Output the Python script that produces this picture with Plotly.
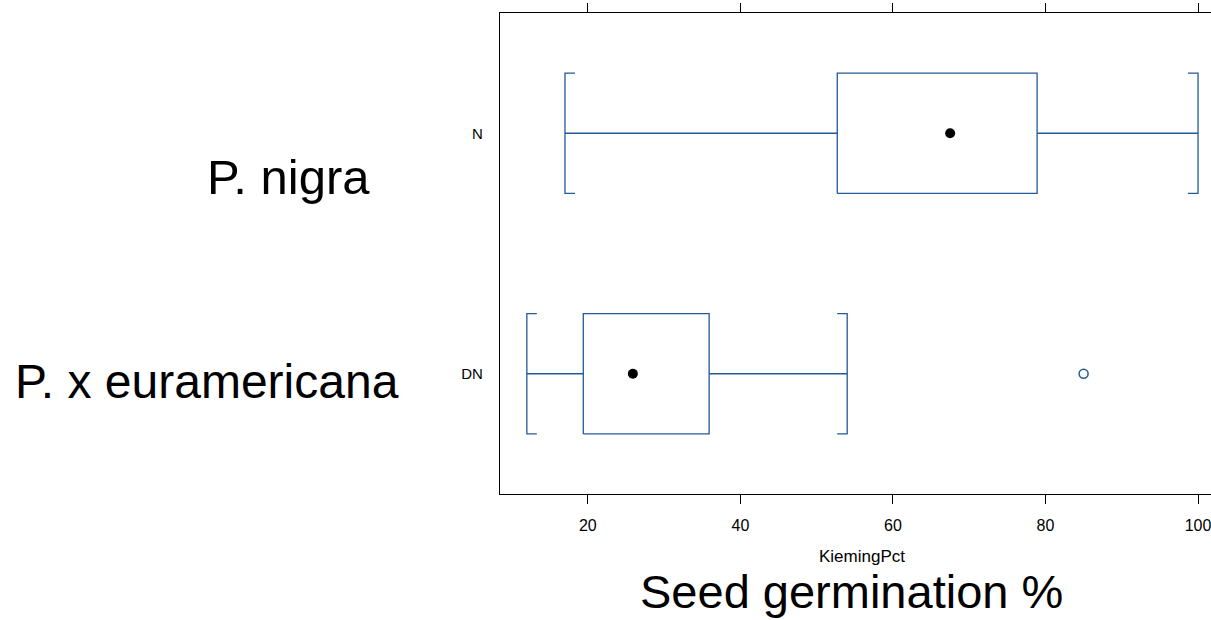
import plotly.graph_objects as go

# ---- data ----
groups = ["DN", "N"]
whisker_low = [12.0, 17.0]
q1 = [19.4, 52.7]
median = [25.9, 67.5]
q3 = [35.9, 78.9]
whisker_high = [54.0, 100.0]
outlier_group = ["DN"]
outlier_value = [85.0]
x_ticks = [20, 40, 60, 80, 100]

# ---- style ----
BLUE = "#235a98"
FONT = "Liberation Sans, Arial, sans-serif"
W, H = 1211, 620
ML, MR, MT, MB = 500, 0, 13, 126
XR = [8.48, 101.7]
YR = [0.5, 2.5]
HALF = 0.25          # half box height in category units
CAP_PX = 10          # cap stub length in pixels
cap = CAP_PX * (XR[1] - XR[0]) / (W - ML - MR)

fig = go.Figure()

for i, g in enumerate(groups):
    y = i + 1
    xs, ys = [], []
    xs += [q1[i], q3[i], q3[i], q1[i], q1[i], None]
    ys += [y - HALF, y - HALF, y + HALF, y + HALF, y - HALF, None]
    xs += [whisker_low[i], q1[i], None, q3[i], whisker_high[i], None]
    ys += [y, y, None, y, y, None]
    wl, wh = whisker_low[i], whisker_high[i]
    xs += [wl + cap, wl, wl, wl + cap, None]
    ys += [y - HALF, y - HALF, y + HALF, y + HALF, None]
    xs += [wh - cap, wh, wh, wh - cap]
    ys += [y - HALF, y - HALF, y + HALF, y + HALF]
    fig.add_trace(go.Scatter(x=xs, y=ys, mode="lines",
                             line=dict(color=BLUE, width=1.3),
                             hoverinfo="skip", showlegend=False, cliponaxis=False))

fig.add_trace(go.Scatter(x=median, y=[groups.index(g) + 1 for g in groups],
                         mode="markers",
                         marker=dict(color="black", size=10, symbol="circle"),
                         showlegend=False))

fig.add_trace(go.Scatter(x=outlier_value,
                         y=[groups.index(g) + 1 for g in outlier_group],
                         mode="markers",
                         marker=dict(color=BLUE, size=9, symbol="circle-open",
                                     line=dict(width=1.5, color=BLUE)),
                         showlegend=False))

def px_to_paper_x(px):
    return (px - ML) / (W - ML - MR)

def px_to_paper_y(py):
    return (H - MB - py) / (H - MT - MB)

annotations = [
    dict(text="P. nigra", x=px_to_paper_x(205), y=px_to_paper_y(177),
         xanchor="left", yanchor="middle", font=dict(size=49)),
    dict(text="P. x euramericana", x=px_to_paper_x(13), y=px_to_paper_y(381),
         xanchor="left", yanchor="middle", font=dict(size=48)),
    dict(text="Seed germination %", x=px_to_paper_x(851), y=px_to_paper_y(591),
         xanchor="center", yanchor="middle", font=dict(size=47)),
    dict(text="KiemingPct", x=px_to_paper_x(862), y=px_to_paper_y(556),
         xanchor="center", yanchor="middle", font=dict(size=17)),
]
for a in annotations:
    a.update(xref="paper", yref="paper", showarrow=False)
    a["font"].update(color="black", family=FONT)

fig.update_layout(
    width=W, height=H,
    margin=dict(l=ML, r=MR, t=MT, b=MB, pad=0),
    paper_bgcolor="white", plot_bgcolor="white",
    font=dict(family=FONT, color="black", size=16),
    annotations=annotations,
    xaxis=dict(range=XR, tickvals=x_ticks, ticktext=[str(t) for t in x_ticks],
               showgrid=False, zeroline=False, showline=True, linecolor="black",
               linewidth=1.2, mirror="ticks", ticks="outside", ticklen=9,
               tickcolor="black", tickwidth=1, tickfont=dict(size=16),
               ticklabelstandoff=8, ticklabeloverflow="allow"),
    yaxis=dict(range=YR, tickvals=[1, 2], ticktext=groups,
               showgrid=False, zeroline=False, showline=True, linecolor="black",
               linewidth=1.2, ticks="", tickfont=dict(size=15),
               ticklabelstandoff=13),
)

fig.write_html("out.html",
               config={"displayModeBar": False},
               post_script="document.body.style.margin='0';"
                           "document.body.style.overflow='hidden';")
